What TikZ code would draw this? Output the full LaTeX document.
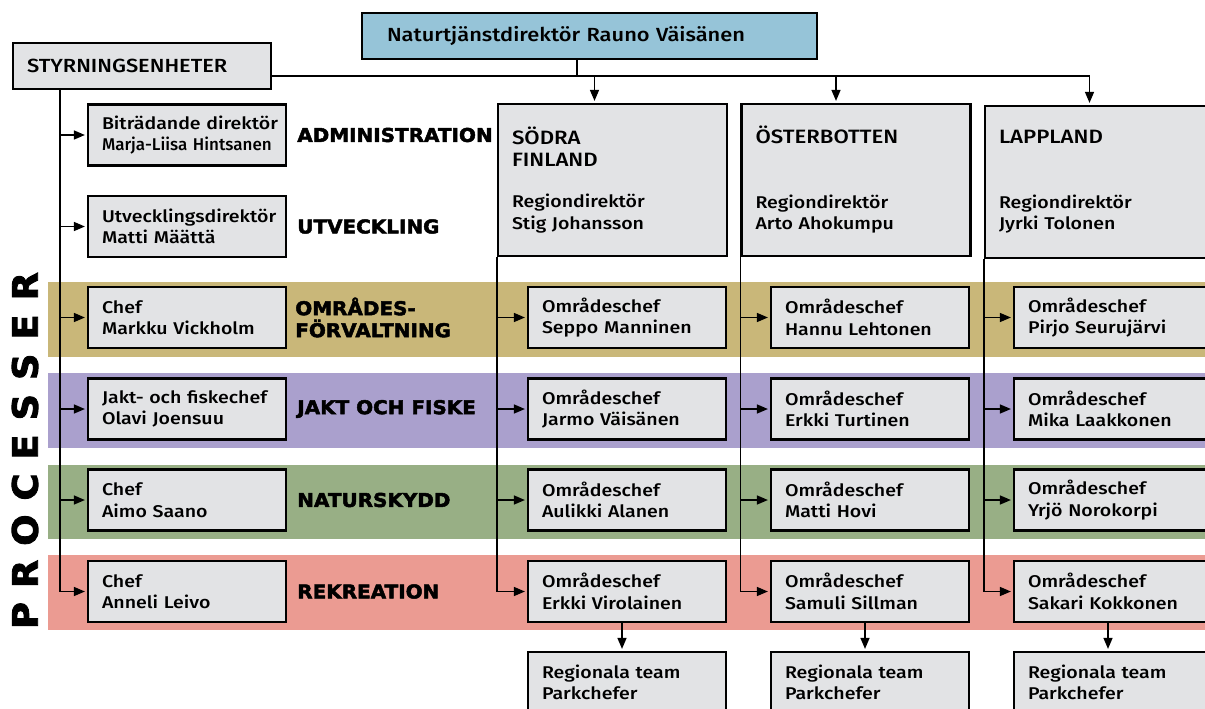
\documentclass[tikz,border=0pt]{standalone}
\usepackage{fontspec}
\setmainfont{Fira Sans}[UprightFont={* Medium}, FakeStretch=1.15]
\newfontfamily\heavyfont{DejaVu Sans Bold}[FakeBold=2.5, FakeStretch=1.05]
\newfontfamily\narrowfont{Fira Sans}[UprightFont={* Medium}, FakeStretch=1.0]
\usetikzlibrary{arrows.meta, positioning}

\definecolor{boxgray}{RGB}{226,227,229}
\definecolor{chiefblue}{RGB}{150,196,216}
\definecolor{omrband}{RGB}{201,183,121}
\definecolor{jaktband}{RGB}{170,160,205}
\definecolor{naturband}{RGB}{152,175,133}
\definecolor{rekrband}{RGB}{235,155,146}

\newcommand\unitfont{\fontsize{17}{21.5}\selectfont}
\newcommand\regionfont{\fontsize{19.3}{21.5}\selectfont}

\tikzset{
  unit/.style = {draw, line width=2.2pt, fill=boxgray, minimum width=198pt,
    minimum height=61pt, text width=184pt, inner xsep=7pt, align=left,
    execute at begin node={\leftskip=7pt}, font=\unitfont},
  region/.style = {unit, minimum width=229pt, minimum height=152pt, text width=215pt},
  band label/.style = {font=\heavyfont\fontsize{19}{22}\selectfont,
    align=left, anchor=west, inner sep=0pt},
  link/.style = {line width=1.4pt},
  arr/.style = {link, -{Triangle[length=11pt,width=9pt]}, shorten >=2pt},
}

\begin{document}
\begin{tikzpicture}[x=1pt, y=-1pt]
  \useasboundingbox (0,0) rectangle (1205,709);

  % process bands
  \fill [omrband] (48,282) rectangle (1212,357);
  \fill [jaktband] (48,373) rectangle (1212,448);
  \fill [naturband] (48,465) rectangle (1212,539);
  \fill [rekrband] (48,555) rectangle (1212,630);

  \node (proc) [rotate=90, inner sep=0pt, font=\heavyfont\fontsize{35}{35}\selectfont]
    at (25,450.5) {P\kern14pt R\kern14pt O\kern14pt C\kern14pt E\kern14pt S\kern14pt S\kern14pt E\kern14pt R};

  % top
  \node (chief) [unit, fill=chiefblue, minimum width=455pt, minimum height=46pt,
    text width=429pt, execute at begin node={\leftskip=12pt},
    font=\fontsize{19}{22}\selectfont] at (589.5,36) {Naturtjänstdirektör Rauno Väisänen};
  \node (styr) [unit, minimum width=258pt, minimum height=46pt, text width=244pt,
    font=\fontsize{19}{22}\selectfont] at (142,66) {STYRNINGSENHETER};

  % staff units
  \node (adm) [unit] at (187,135)
    {Biträdande direktör\\\mbox{\narrowfont\unitfont Marja-Liisa Hintsanen}};
  \node (utv) [unit] at (187,226.5) {Utvecklingsdirektör\\Matti Määttä};
  \node (omr) [unit] at (187,317.5) {Chef\\Markku Vickholm};
  \node (jakt) [unit] at (187,409) {Jakt- och fiskechef\\Olavi Joensuu};
  \node (nat) [unit] at (187,500) {Chef\\Aimo Saano};
  \node (rek) [unit] at (187,591.5) {Chef\\Anneli Leivo};

  \node (admlabel) [band label, right=10pt of adm] {ADMINISTRATION};
  \node (utvlabel) [band label, right=10pt of utv] {UTVECKLING};
  \node (omrlabel) [band label, right=8pt of omr] {OMRÅDES-\\FÖRVALTNING};
  \node (jaktlabel) [band label, right=10pt of jakt] {JAKT OCH FISKE};
  \node (natlabel) [band label, right=10pt of nat] {NATURSKYDD};
  \node (reklabel) [band label, right=10pt of rek] {REKREATION};

  % regions
  \node (sf) [region] at (612.5,180)
    {\regionfont SÖDRA\\FINLAND\\[20pt]\unitfont Regiondirektör\\Stig Johansson};
  \node (ob) [region] at (856,180)
    {\regionfont ÖSTERBOTTEN\\[43pt]\unitfont Regiondirektör\\Arto Ahokumpu};
  \node (lp) [region] at (1099.5,182)
    {\regionfont LAPPLAND\\[43pt]\unitfont Regiondirektör\\Jyrki Tolonen};

  \node (sfomr) [unit] at (627,317.5) {Områdeschef\\Seppo Manninen};
  \node (sfjakt) [unit] at (627,409) {Områdeschef\\Jarmo Väisänen};
  \node (sfnat) [unit] at (627,500) {Områdeschef\\Aulikki Alanen};
  \node (sfrek) [unit] at (627,591.5) {Områdeschef\\Erkki Virolainen};
  \node (sfteam) [unit] at (627,682.5) {Regionala team\\Parkchefer};

  \node (obomr) [unit] at (870,317.5) {Områdeschef\\Hannu Lehtonen};
  \node (objakt) [unit] at (870,409) {Områdeschef\\Erkki Turtinen};
  \node (obnat) [unit] at (870,500) {Områdeschef\\Matti Hovi};
  \node (obrek) [unit] at (870,591.5) {Områdeschef\\Samuli Sillman};
  \node (obteam) [unit] at (870,682.5) {Regionala team\\Parkchefer};

  \node (lpomr) [unit] at (1113,317.5) {Områdeschef\\Pirjo Seurujärvi};
  \node (lpjakt) [unit] at (1113,409) {Områdeschef\\Mika Laakkonen};
  \node (lpnat) [unit] at (1113,500) {Områdeschef\\Yrjö Norokorpi};
  \node (lprek) [unit] at (1113,591.5) {Områdeschef\\Sakari Kokkonen};
  \node (lpteam) [unit] at (1113,682.5) {Regionala team\\Parkchefer};

  % connectors
  \coordinate (bus) at (577,76);
  \coordinate (sfin) at ([xshift=-18pt]sf.north);
  \coordinate (obin) at ([xshift=-20pt]ob.north);
  \coordinate (lpin) at ([xshift=-10pt]lp.north);
  \coordinate (trunk) at ([xshift=48pt]styr.south west);

  \draw [link] (chief.south -| bus) -- (bus);
  \draw [arr] (styr.east |- bus) -| (lpin);
  \draw [arr] (bus -| sfin) -- (sfin);
  \draw [arr] (bus -| obin) -- (obin);

  \draw [arr] (trunk) |- (rek.west);
  \foreach \n in {adm,utv,omr,jakt,nat}
    \draw [arr] (trunk |- \n.west) -- (\n.west);

  \foreach \r in {sf,ob,lp} {
    \draw [arr] (\r.south west) |- (\r rek.west);
    \foreach \n in {omr,jakt,nat}
      \draw [arr] (\r.south west |- \r\n.west) -- (\r\n.west);
    \draw [arr] ([xshift=-5pt]\r rek.south) -- ([xshift=-5pt]\r team.north);
  }
\end{tikzpicture}
\end{document}
